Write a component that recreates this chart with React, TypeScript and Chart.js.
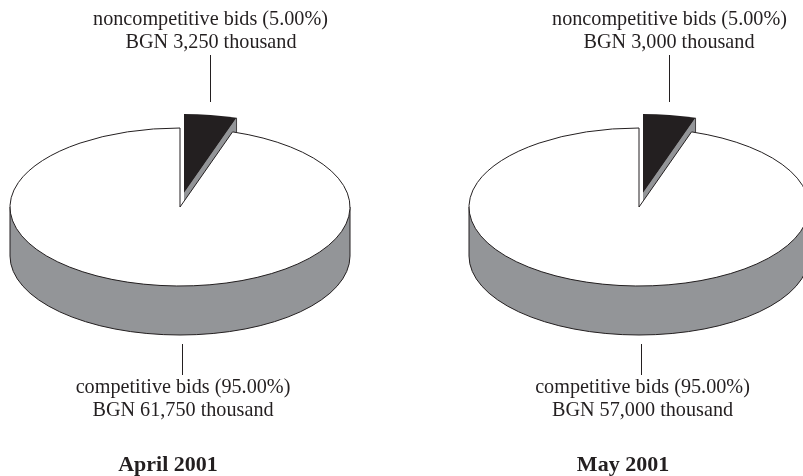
import React, { useEffect, useRef } from "react";
import { Chart, registerables } from "chart.js";

Chart.register(...registerables);

const sliceNames = ["noncompetitive bids", "competitive bids"];
const aprilValues = [3250, 61750];
const mayValues = [3000, 57000];
const aprilLabels = ["noncompetitive bids (5.00%)", "BGN 3,250 thousand", "competitive bids (95.00%)", "BGN 61,750 thousand"];
const mayLabels = ["noncompetitive bids (5.00%)", "BGN 3,000 thousand", "competitive bids (95.00%)", "BGN 57,000 thousand"];
const aprilTitle = "April 2001";
const mayTitle = "May 2001";

const INK = "#231f20";
const GREY = "#939598";
const W = 803;
const H = 476;
const RADIUS = 170;
const TILT = 79 / 170;
const DEPTH = 49;
const CENTER_Y = 207;
const EXPLODE = { x: 4, y: -14 };

type Layout = {
  cx: number;
  text: [number, number][]; // x, baseline for each label line
  title: [number, number];
  topLeader: number;
  bottomLeader: number;
};

const pie3dPlugin = (labels: string[], title: string, l: Layout) => ({
  id: "pie3d",
  afterDatasetsUpdate(chart: any) {
    const wedge = chart.getDatasetMeta(0).data[0];
    wedge.x += EXPLODE.x;
    wedge.y += EXPLODE.y / TILT;
  },
  beforeDatasetsDraw(chart: any) {
    const ctx = chart.ctx;
    const [wedge, main] = chart.getDatasetMeta(0).data;
    const { x: cx, y: cy, outerRadius: r } = main;
    const ry = r * TILT;
    ctx.save();
    ctx.fillStyle = GREY;
    ctx.strokeStyle = INK;
    ctx.lineWidth = 1;
    ctx.beginPath();
    ctx.moveTo(cx - r, cy);
    ctx.lineTo(cx - r, cy + DEPTH);
    ctx.ellipse(cx, cy + DEPTH, r, ry, 0, Math.PI, 0, true);
    ctx.lineTo(cx + r, cy);
    ctx.closePath();
    ctx.fill();
    ctx.stroke();
    const ax = wedge.x;
    const ay = cy + (wedge.y - cy) * TILT;
    const ex = ax + r * Math.cos(wedge.endAngle);
    const ey = ay + ry * Math.sin(wedge.endAngle);
    ctx.beginPath();
    ctx.moveTo(ax, ay);
    ctx.lineTo(ex, ey);
    ctx.lineTo(ex, ey + DEPTH);
    ctx.lineTo(ax, ay + DEPTH);
    ctx.closePath();
    ctx.fill();
    ctx.lineWidth = 0.8;
    ctx.beginPath();
    ctx.moveTo(ex, ey);
    ctx.lineTo(ex, ey + DEPTH);
    ctx.stroke();
    ctx.restore();
    ctx.save();
    ctx.translate(cx, cy);
    ctx.scale(1, TILT);
    ctx.translate(-cx, -cy);
  },
  afterDatasetsDraw(chart: any) {
    const ctx = chart.ctx;
    ctx.restore();
    const main = chart.getDatasetMeta(0).data[1];
    const { x: cx, y: cy, outerRadius: r, startAngle, endAngle } = main;
    const ry = r * TILT;
    ctx.save();
    ctx.strokeStyle = INK;
    ctx.lineWidth = 1;
    ctx.beginPath();
    ctx.moveTo(cx, cy);
    ctx.ellipse(cx, cy, r, ry, 0, startAngle, endAngle);
    ctx.closePath();
    ctx.stroke();
    ctx.beginPath();
    ctx.moveTo(l.topLeader + 0.5, 55);
    ctx.lineTo(l.topLeader + 0.5, 102);
    ctx.moveTo(l.bottomLeader + 0.5, 344);
    ctx.lineTo(l.bottomLeader + 0.5, 375);
    ctx.stroke();
    ctx.fillStyle = INK;
    ctx.textAlign = "center";
    ctx.textBaseline = "alphabetic";
    ctx.font = "20.2px 'Liberation Serif'";
    labels.forEach((t, i) => ctx.fillText(t, l.text[i][0], l.text[i][1]));
    ctx.font = "bold 22px 'Liberation Serif'";
    ctx.fillText(title, l.title[0], l.title[1]);
    ctx.restore();
  },
});

function Pie({ values, labels, title, layout }: { values: number[]; labels: string[]; title: string; layout: Layout }) {
  const ref = useRef<HTMLCanvasElement>(null);
  useEffect(() => {
    const half = Math.min(layout.cx, W - layout.cx);
    const chart = new Chart(ref.current!, {
      type: "pie",
      data: {
        labels: sliceNames,
        datasets: [{ data: values, backgroundColor: [INK, "#ffffff"], borderWidth: 0 }],
      },
      options: {
        responsive: false,
        animation: false,
        events: [],
        radius: RADIUS,
        layout: {
          padding: {
            left: layout.cx - half,
            right: W - layout.cx - half,
            top: 0,
            bottom: H - 2 * CENTER_Y,
          },
        },
        plugins: { legend: { display: false }, tooltip: { enabled: false } },
      } as any,
      plugins: [pie3dPlugin(labels, title, layout)],
    });
    return () => chart.destroy();
  }, []);
  return <canvas ref={ref} width={W} height={H} style={{ position: "absolute", left: 0, top: 0, width: W, height: H }} />;
}

const aprilLayout: Layout = {
  cx: 180,
  text: [[210.5, 25], [211, 48], [183, 393], [183, 416]],
  title: [168, 471],
  topLeader: 210,
  bottomLeader: 182,
};
const mayLayout: Layout = {
  cx: 639,
  text: [[669.5, 25], [669, 48], [642.5, 393], [642.5, 416]],
  title: [623, 471],
  topLeader: 669,
  bottomLeader: 641,
};

export default function App() {
  return (
    <div style={{ position: "fixed", left: 0, top: 0, width: W, height: H, overflow: "hidden", background: "#fff" }}>
      <Pie values={aprilValues} labels={aprilLabels} title={aprilTitle} layout={aprilLayout} />
      <Pie values={mayValues} labels={mayLabels} title={mayTitle} layout={mayLayout} />
    </div>
  );
}
